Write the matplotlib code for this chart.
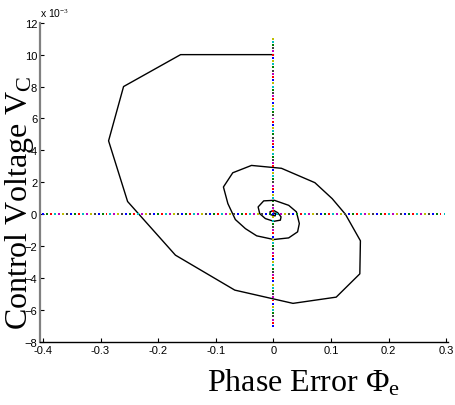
import numpy as np
import matplotlib.pyplot as plt

plt.rcParams['mathtext.fontset'] = 'custom'
plt.rcParams['mathtext.rm'] = 'Liberation Serif'
plt.rcParams['mathtext.it'] = 'Liberation Serif:italic'

# phase-plane trajectory (phase error, control voltage in 1e-3 V)
phase_err = [0.0, -0.161, -0.26, -0.286, -0.253, -0.170, -0.067, 0.034, 0.109,
             0.150, 0.151, 0.125, 0.102, 0.072, 0.014, -0.038, -0.0705, -0.0867,
             -0.079, -0.066, -0.0485, -0.029, 0.0006, 0.0265, 0.042, 0.045, 0.040,
             0.0266, 0.0017, -0.0168, -0.0265, -0.0237, -0.0139, 0.0006, 0.0121,
             0.0133, 0.0075, 0.0, -0.006, -0.005, 0.003, 0.004, 0.0, 0.0]
ctrl_volt = [10.0, 10.0, 8.0, 4.6, 0.8, -2.56, -4.75, -5.58, -5.19,
             -3.73, -1.66, 0.0, 0.98, 1.98, 2.88, 3.06, 2.6, 1.71,
             0.67, -0.33, -0.9, -1.35, -1.58, -1.48, -1.1, -0.58, 0.15,
             0.56, 0.875, 0.84, 0.46, 0.04, -0.27, -0.44, -0.37,
             -0.16, 0.1, 0.25, 0.15, -0.02, -0.1, 0.05, 0.08, 0.0]

x_ticks = [-0.4, -0.3, -0.2, -0.1, 0, 0.1, 0.2, 0.3]
x_labels = ['-0.4', '-0.3', '-0.2', '-0.1', '0', '0.1', '0.2', '0.3']
y_ticks = [-8, -6, -4, -2, 0, 2, 4, 6, 8, 10, 12]

# matlab-ish colour cycle for the dotted axis lines
dot_colors = [(0, 0, 1), (0, 0.5, 0), (1, 0, 0), (0, 0.75, 0.75),
              (0.75, 0, 0.75), (0.75, 0.75, 0), (0.25, 0.25, 0.25)]

fig = plt.figure(figsize=(4.55, 4.06), dpi=100)
ax = fig.add_axes([40 / 455, 1 - 343 / 406, 408 / 455, (343 - 23.7) / 406])

ax.plot(phase_err, ctrl_volt, color='black', lw=1.0)

# dotted zero lines, each dot in the next colour
hx = np.arange(-0.4, 0.3, 0.0069)
ax.scatter(hx, np.zeros_like(hx), s=2.0, marker='s', linewidths=0,
           c=[dot_colors[i % 7] for i in range(len(hx))], zorder=3)
vy = np.arange(-7, 11.05, 0.2)
ax.scatter(np.zeros_like(vy), vy, s=2.0, marker='s', linewidths=0,
           c=[dot_colors[(i * 2) % 7] for i in range(len(vy))], zorder=3)

ax.set_xlim(-0.405, 0.303)
ax.set_ylim(-8, 12)
ax.set_xticks(x_ticks)
ax.set_xticklabels(x_labels)
ax.set_yticks(y_ticks)
ax.tick_params(direction='in', length=3, labelsize=8, pad=2,
               labelfontfamily='Liberation Sans')
ax.spines['top'].set_visible(False)
ax.spines['right'].set_visible(False)
ax.spines['left'].set_color('#808080')
ax.spines['left'].set_linewidth(1.6)
ax.spines['bottom'].set_linewidth(1.0)

fig.text(40 / 455, 1 - 14 / 406, r'x 10$^{-3}$', fontsize=7.5,
         family='Liberation Sans', va='center', ha='left')
fig.text(20 / 455, 1 - 203 / 406, r'Control Voltage V$_\mathrm{C}$',
         fontsize=23, family='Liberation Serif', rotation=90,
         ha='center', va='center')
fig.text(304 / 455, 1 - 383 / 406, r'Phase Error $\mathrm{\Phi}_\mathrm{e}$',
         fontsize=23, family='Liberation Serif', ha='center', va='center')

fig.savefig('out.png', dpi=100)
